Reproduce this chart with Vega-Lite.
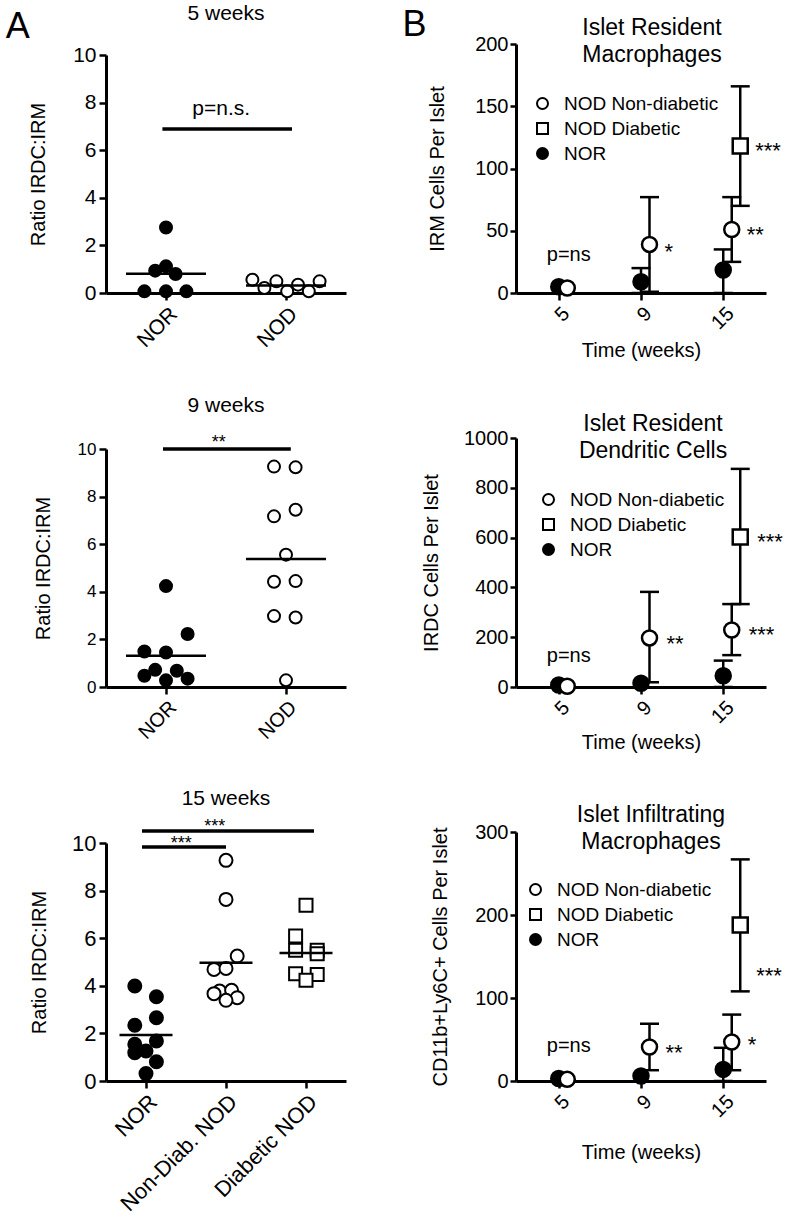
{
  "$schema": "https://vega.github.io/schema/vega-lite/v6.json",
  "background": "white",
  "padding": {"left": 5, "top": 3, "right": 5, "bottom": 5},
  "config": {
    "font": "Liberation Sans",
    "view": {"stroke": null},
    "axis": {"domainColor": "black", "domainWidth": 3, "tickColor": "black", "tickWidth": 2.5, "tickSize": 7, "labelColor": "black", "titleColor": "black", "grid": false, "titleFontWeight": "normal", "labelFontSize": 20, "titleFontSize": 20, "labelPadding": 3, "labelOverlap": false, "labelFont": "Liberation Sans", "titleFont": "Liberation Sans"},
    "title": {"fontWeight": "normal", "color": "black", "font": "Liberation Sans", "fontSize": 21},
    "legend": {"labelFont": "Liberation Sans", "labelColor": "black", "labelFontSize": 19}
  },
  "datasets": {
    "a1": [
      {"group": "NOR", "x": 1.0, "y": 2.75}, {"group": "NOR", "x": 0.91, "y": 0.94}, {"group": "NOR", "x": 1.0, "y": 1.12}, {"group": "NOR", "x": 1.08, "y": 0.8}, {"group": "NOR", "x": 0.82, "y": 0.07}, {"group": "NOR", "x": 1.0, "y": 0.07}, {"group": "NOR", "x": 1.17, "y": 0.07},
      {"group": "NOD", "x": 1.72, "y": 0.56}, {"group": "NOD", "x": 1.82, "y": 0.21}, {"group": "NOD", "x": 1.92, "y": 0.49}, {"group": "NOD", "x": 2.01, "y": 0.07}, {"group": "NOD", "x": 2.1, "y": 0.35}, {"group": "NOD", "x": 2.19, "y": 0.07}, {"group": "NOD", "x": 2.28, "y": 0.49}
    ],
    "a1m": [{"x": 1, "y": 0.81}, {"x": 2, "y": 0.32}],
    "a1s": [{"x": 0.97, "x2": 2.05, "y": 6.89}],
    "a1t": [{"x": 1.46, "y": 7.48, "label": "p=n.s."}],
    "a2": [
      {"group": "NOR", "x": 1.0, "y": 4.24}, {"group": "NOR", "x": 1.18, "y": 2.23}, {"group": "NOR", "x": 0.82, "y": 1.49}, {"group": "NOR", "x": 1.0, "y": 1.45}, {"group": "NOR", "x": 0.91, "y": 0.72}, {"group": "NOR", "x": 1.09, "y": 0.68}, {"group": "NOR", "x": 0.82, "y": 0.47}, {"group": "NOR", "x": 1.0, "y": 0.28}, {"group": "NOR", "x": 1.18, "y": 0.35},
      {"group": "NOD", "x": 1.9, "y": 9.26}, {"group": "NOD", "x": 2.08, "y": 9.23}, {"group": "NOD", "x": 1.9, "y": 7.17}, {"group": "NOD", "x": 2.08, "y": 7.45}, {"group": "NOD", "x": 2.0, "y": 5.56}, {"group": "NOD", "x": 1.9, "y": 4.42}, {"group": "NOD", "x": 2.08, "y": 4.45}, {"group": "NOD", "x": 1.9, "y": 2.98}, {"group": "NOD", "x": 2.08, "y": 2.92}, {"group": "NOD", "x": 2.0, "y": 0.28}
    ],
    "a2m": [{"x": 1, "y": 1.31}, {"x": 2, "y": 5.38}],
    "a2s": [{"x": 0.975, "x2": 2.04, "y": 10.0}],
    "a2t": [{"x": 1.44, "y": 10.42, "label": "**"}],
    "a3": [
      {"group": "NOR", "x": 0.86, "y": 3.99}, {"group": "NOR", "x": 1.13, "y": 3.54}, {"group": "NOR", "x": 1.13, "y": 2.66}, {"group": "NOR", "x": 0.86, "y": 2.34}, {"group": "NOR", "x": 1.13, "y": 1.68}, {"group": "NOR", "x": 0.86, "y": 1.54}, {"group": "NOR", "x": 1.0, "y": 1.26}, {"group": "NOR", "x": 0.86, "y": 1.19}, {"group": "NOR", "x": 1.13, "y": 0.81}, {"group": "NOR", "x": 1.0, "y": 0.31},
      {"group": "Non-Diab. NOD", "x": 2.0, "y": 9.27}, {"group": "Non-Diab. NOD", "x": 2.0, "y": 7.63}, {"group": "Non-Diab. NOD", "x": 2.14, "y": 5.25}, {"group": "Non-Diab. NOD", "x": 1.85, "y": 4.69}, {"group": "Non-Diab. NOD", "x": 2.0, "y": 4.73}, {"group": "Non-Diab. NOD", "x": 1.92, "y": 3.78}, {"group": "Non-Diab. NOD", "x": 2.07, "y": 3.81}, {"group": "Non-Diab. NOD", "x": 1.85, "y": 3.67}, {"group": "Non-Diab. NOD", "x": 2.14, "y": 3.5}, {"group": "Non-Diab. NOD", "x": 2.0, "y": 3.39},
      {"group": "Diabetic NOD", "x": 3.0, "y": 7.38}, {"group": "Diabetic NOD", "x": 2.87, "y": 6.09}, {"group": "Diabetic NOD", "x": 2.87, "y": 5.49}, {"group": "Diabetic NOD", "x": 3.14, "y": 5.49}, {"group": "Diabetic NOD", "x": 3.14, "y": 5.35}, {"group": "Diabetic NOD", "x": 2.87, "y": 4.51}, {"group": "Diabetic NOD", "x": 3.14, "y": 4.48}, {"group": "Diabetic NOD", "x": 3.0, "y": 4.23}
    ],
    "a3m": [{"x": 1, "y": 1.93}, {"x": 2, "y": 4.97}, {"x": 3, "y": 5.38}],
    "a3s": [{"x": 0.95, "x2": 3.1, "y": 10.5}, {"x": 0.95, "x2": 2.0, "y": 9.83}],
    "a3t": [{"x": 1.86, "y": 10.84, "label": "***"}, {"x": 1.44, "y": 10.13, "label": "***"}],
    "b1": [
      {"week": 5, "group": "NOR", "y": 5}, {"week": 9, "group": "NOR", "y": 9}, {"week": 15, "group": "NOR", "y": 18.5},
      {"week": 5, "group": "NOD Non-diabetic", "y": 4}, {"week": 9, "group": "NOD Non-diabetic", "y": 39}, {"week": 15, "group": "NOD Non-diabetic", "y": 51},
      {"week": 15, "group": "NOD Diabetic", "y": 118}
    ],
    "b1e": [
      {"week": 9, "group": "NOR", "lo": 0, "hi": 20}, {"week": 15, "group": "NOR", "lo": 0, "hi": 35},
      {"week": 9, "group": "NOD Non-diabetic", "lo": 1, "hi": 77}, {"week": 15, "group": "NOD Non-diabetic", "lo": 25, "hi": 77},
      {"week": 15, "group": "NOD Diabetic", "lo": 70, "hi": 166}
    ],
    "b1t": [
      {"week": 9, "group": "NOD Non-diabetic", "y": 37, "label": "*"}, {"week": 15, "group": "NOD Non-diabetic", "y": 51, "label": "**"}, {"week": 15, "group": "NOD Diabetic", "y": 118, "label": "***"}
    ],
    "b1p": [{"week": 5, "group": "NOR", "y": 26, "label": "p=ns"}],
    "b2": [
      {"week": 5, "group": "NOR", "y": 8}, {"week": 9, "group": "NOR", "y": 15}, {"week": 15, "group": "NOR", "y": 45},
      {"week": 5, "group": "NOD Non-diabetic", "y": 3}, {"week": 9, "group": "NOD Non-diabetic", "y": 197}, {"week": 15, "group": "NOD Non-diabetic", "y": 229},
      {"week": 15, "group": "NOD Diabetic", "y": 602}
    ],
    "b2e": [
      {"week": 15, "group": "NOR", "lo": 0, "hi": 106},
      {"week": 9, "group": "NOD Non-diabetic", "lo": 19, "hi": 382}, {"week": 15, "group": "NOD Non-diabetic", "lo": 128, "hi": 333},
      {"week": 15, "group": "NOD Diabetic", "lo": 333, "hi": 876}
    ],
    "b2t": [
      {"week": 9, "group": "NOD Non-diabetic", "y": 193, "label": "**"}, {"week": 15, "group": "NOD Non-diabetic", "y": 229, "label": "***"}, {"week": 15, "group": "NOD Diabetic", "y": 602, "label": "***"}
    ],
    "b2p": [{"week": 5, "group": "NOR", "y": 102, "label": "p=ns"}],
    "b3": [
      {"week": 5, "group": "NOR", "y": 3}, {"week": 9, "group": "NOR", "y": 6}, {"week": 15, "group": "NOR", "y": 14},
      {"week": 5, "group": "NOD Non-diabetic", "y": 2}, {"week": 9, "group": "NOD Non-diabetic", "y": 41}, {"week": 15, "group": "NOD Non-diabetic", "y": 47},
      {"week": 15, "group": "NOD Diabetic", "y": 188}
    ],
    "b3e": [
      {"week": 15, "group": "NOR", "lo": 0, "hi": 40},
      {"week": 9, "group": "NOD Non-diabetic", "lo": 13, "hi": 69}, {"week": 15, "group": "NOD Non-diabetic", "lo": 13, "hi": 80},
      {"week": 15, "group": "NOD Diabetic", "lo": 108, "hi": 267}
    ],
    "b3t": [
      {"week": 9, "group": "NOD Non-diabetic", "y": 40, "label": "**"}, {"week": 15, "group": "NOD Non-diabetic", "y": 49, "label": "*"}, {"week": 15, "group": "NOD Diabetic", "y": 132, "label": "***"}
    ],
    "b3p": [{"week": 5, "group": "NOR", "y": 35, "label": "p=ns"}]
  },
  "spacing": 410,
  "bounds": "flush",
  "resolve": {"scale": {"x": "independent", "y": "independent", "fill": "independent", "shape": "independent", "stroke": "independent", "xOffset": "independent"}, "axis": {"x": "independent", "y": "independent"}, "legend": {"fill": "independent", "shape": "independent", "stroke": "independent"}},
  "hconcat": [
    {
      "title": {"text": "A", "anchor": "start", "fontSize": 36, "offset": -43, "dx": -23, "frame": "bounds"},
      "spacing": 145,
      "bounds": "flush",
      "resolve": {"scale": {"x": "independent", "y": "independent", "fill": "independent", "shape": "independent"}, "axis": {"x": "independent", "y": "independent"}, "legend": {"fill": "independent", "shape": "independent"}},
      "vconcat": [
        {
          "width": 240, "height": 249,
          "title": {"text": "5 weeks", "fontSize": 21, "offset": 20},
          "layer": [
            {"data": {"name": "a1"},
             "mark": {"type": "point", "shape": "circle", "size": 144, "stroke": "black", "strokeWidth": 2, "opacity": 1},
             "encoding": {
               "x": {"field": "x", "type": "quantitative", "scale": {"domain": [0.5, 2.5], "nice": false}, "axis": {"values": [1, 2], "labelExpr": "datum.value == 1 ? 'NOR' : 'NOD'", "labelAngle": -45, "title": null, "labelFontSize": 21}},
               "y": {"field": "y", "type": "quantitative", "scale": {"domain": [0, 10], "range": [249, 11], "nice": false}, "axis": {"values": [0, 2, 4, 6, 8, 10], "title": "Ratio IRDC:IRM", "labelFontSize": 21, "titlePadding": 24}},
               "fill": {"field": "group", "type": "nominal", "scale": {"domain": ["NOR", "NOD"], "range": ["black", "white"]}, "legend": null}
             }},
            {"data": {"name": "a1m"},
             "mark": {"type": "tick", "orient": "horizontal", "size": 80, "thickness": 2.5, "color": "black", "opacity": 1},
             "encoding": {"x": {"field": "x", "type": "quantitative"}, "y": {"field": "y", "type": "quantitative"}}},
            {"data": {"name": "a1s"},
             "mark": {"type": "rule", "strokeWidth": 3.5, "color": "black"},
             "encoding": {"x": {"field": "x", "type": "quantitative"}, "x2": {"field": "x2"}, "y": {"field": "y", "type": "quantitative"}}},
            {"data": {"name": "a1t"},
             "mark": {"type": "text", "fontSize": 21, "baseline": "alphabetic", "align": "center", "color": "black"},
             "encoding": {"x": {"field": "x", "type": "quantitative"}, "y": {"field": "y", "type": "quantitative"}, "text": {"field": "label"}}}
          ]
        },
        {
          "width": 240, "height": 249,
          "title": {"text": "9 weeks", "fontSize": 21, "offset": 18},
          "layer": [
            {"data": {"name": "a2"},
             "mark": {"type": "point", "shape": "circle", "size": 144, "stroke": "black", "strokeWidth": 2, "opacity": 1},
             "encoding": {
               "x": {"field": "x", "type": "quantitative", "scale": {"domain": [0.5, 2.5], "nice": false}, "axis": {"values": [1, 2], "labelExpr": "datum.value == 1 ? 'NOR' : 'NOD'", "labelAngle": -45, "title": null, "labelFontSize": 20}},
               "y": {"field": "y", "type": "quantitative", "scale": {"domain": [0, 10], "range": [249, 11], "nice": false}, "axis": {"values": [0, 2, 4, 6, 8, 10], "title": "Ratio IRDC:IRM", "labelFontSize": 17, "titlePadding": 24}},
               "fill": {"field": "group", "type": "nominal", "scale": {"domain": ["NOR", "NOD"], "range": ["black", "white"]}, "legend": null}
             }},
            {"data": {"name": "a2m"},
             "mark": {"type": "tick", "orient": "horizontal", "size": 80, "thickness": 2.5, "color": "black", "opacity": 1},
             "encoding": {"x": {"field": "x", "type": "quantitative"}, "y": {"field": "y", "type": "quantitative"}}},
            {"data": {"name": "a2s"},
             "mark": {"type": "rule", "strokeWidth": 3.5, "color": "black"},
             "encoding": {"x": {"field": "x", "type": "quantitative"}, "x2": {"field": "x2"}, "y": {"field": "y", "type": "quantitative"}}},
            {"data": {"name": "a2t"},
             "mark": {"type": "text", "fontSize": 18, "baseline": "middle", "dy": 4, "align": "center", "color": "black"},
             "encoding": {"x": {"field": "x", "type": "quantitative"}, "y": {"field": "y", "type": "quantitative"}, "text": {"field": "label"}}}
          ]
        },
        {
          "width": 240, "height": 249,
          "title": {"text": "15 weeks", "fontSize": 21, "offset": 9},
          "layer": [
            {"data": {"name": "a3"},
             "mark": {"type": "point", "size": 169, "stroke": "black", "strokeWidth": 2, "opacity": 1},
             "encoding": {
               "x": {"field": "x", "type": "quantitative", "scale": {"domain": [0.5, 3.5], "nice": false}, "axis": {"values": [1, 2, 3], "labelExpr": "datum.value == 1 ? 'NOR' : datum.value == 2 ? 'Non-Diab. NOD' : 'Diabetic NOD'", "labelAngle": -45, "title": null, "labelFontSize": 22}},
               "y": {"field": "y", "type": "quantitative", "scale": {"domain": [0, 10], "range": [249, 11], "nice": false}, "axis": {"values": [0, 2, 4, 6, 8, 10], "title": "Ratio IRDC:IRM", "labelFontSize": 22, "titlePadding": 22}},
               "fill": {"field": "group", "type": "nominal", "scale": {"domain": ["NOR", "Non-Diab. NOD", "Diabetic NOD"], "range": ["black", "white", "white"]}, "legend": null},
               "shape": {"field": "group", "type": "nominal", "scale": {"domain": ["NOR", "Non-Diab. NOD", "Diabetic NOD"], "range": ["circle", "circle", "square"]}, "legend": null}
             }},
            {"data": {"name": "a3m"},
             "mark": {"type": "tick", "orient": "horizontal", "size": 53, "thickness": 2.5, "color": "black", "opacity": 1},
             "encoding": {"x": {"field": "x", "type": "quantitative"}, "y": {"field": "y", "type": "quantitative"}}},
            {"data": {"name": "a3s"},
             "mark": {"type": "rule", "strokeWidth": 3.5, "color": "black"},
             "encoding": {"x": {"field": "x", "type": "quantitative"}, "x2": {"field": "x2"}, "y": {"field": "y", "type": "quantitative"}}},
            {"data": {"name": "a3t"},
             "mark": {"type": "text", "fontSize": 18, "baseline": "middle", "dy": 4, "align": "center", "color": "black"},
             "encoding": {"x": {"field": "x", "type": "quantitative"}, "y": {"field": "y", "type": "quantitative"}, "text": {"field": "label"}}}
          ]
        }
      ]
    },
    {
      "title": {"text": "B", "anchor": "start", "fontSize": 36, "offset": -27, "dx": -19, "frame": "bounds"},
      "spacing": 145,
      "bounds": "flush",
      "resolve": {"scale": {"x": "independent", "y": "independent", "fill": "independent", "shape": "independent", "stroke": "independent", "xOffset": "independent"}, "axis": {"x": "independent", "y": "independent"}, "legend": {"fill": "independent", "shape": "independent", "stroke": "independent"}},
      "vconcat": [
        {
          "width": 250, "height": 249,
          "title": {"text": ["Islet Resident", "Macrophages"], "fontSize": 23, "lineHeight": 27, "dx": 11, "offset": -33},
          "encoding": {
            "x": {"field": "week", "type": "ordinal", "scale": {"type": "point", "domain": [5, 9, 15], "padding": 0.52}, "axis": {"labelAngle": -45, "title": "Time (weeks)", "tickSize": 7, "labelPadding": 3, "titlePadding": 8}},
            "xOffset": {"field": "group", "type": "nominal", "scale": {"type": "point", "domain": ["NOR", "NOD Non-diabetic", "NOD Diabetic"], "range": [0, 17], "padding": 0}}
          },
          "layer": [
            {"data": {"name": "b1e"},
             "mark": {"type": "rule", "strokeWidth": 2.5, "color": "black"},
             "encoding": {"y": {"field": "lo", "type": "quantitative", "title": "IRM Cells Per Islet", "scale": {"domain": [0, 200], "nice": false}, "axis": {"values": [0, 50, 100, 150, 200], "tickSize": 6, "labelPadding": 2, "titlePadding": 27}}, "y2": {"field": "hi"}}},
            {"data": {"name": "b1e"},
             "mark": {"type": "tick", "orient": "horizontal", "size": 19, "thickness": 2.5, "color": "black", "opacity": 1},
             "encoding": {"y": {"field": "hi", "type": "quantitative", "title": "IRM Cells Per Islet"}}},
            {"data": {"name": "b1e"},
             "mark": {"type": "tick", "orient": "horizontal", "size": 19, "thickness": 2.5, "color": "black", "opacity": 1},
             "encoding": {"y": {"field": "lo", "type": "quantitative", "title": "IRM Cells Per Islet"}}},
            {"data": {"name": "b1"},
             "mark": {"type": "point", "size": 225, "strokeWidth": 2.5, "opacity": 1},
             "encoding": {
               "y": {"field": "y", "type": "quantitative", "title": "IRM Cells Per Islet"},
               "shape": {"field": "group", "type": "nominal", "scale": {"domain": ["NOD Non-diabetic", "NOD Diabetic", "NOR"], "range": ["circle", "square", "circle"]}, "legend": {"orient": "none", "legendX": 17, "legendY": 50, "title": null, "padding": 0, "symbolSize": 121, "symbolStrokeWidth": 2, "labelFontSize": 19, "labelOffset": 12, "rowPadding": 5}},
               "fill": {"field": "group", "type": "nominal", "scale": {"domain": ["NOD Non-diabetic", "NOD Diabetic", "NOR"], "range": ["white", "white", "black"]}, "legend": {"orient": "none", "legendX": 17, "legendY": 50, "title": null, "padding": 0, "symbolSize": 121, "symbolStrokeWidth": 2, "labelFontSize": 19, "labelOffset": 12, "rowPadding": 5}},
               "stroke": {"field": "group", "type": "nominal", "scale": {"domain": ["NOD Non-diabetic", "NOD Diabetic", "NOR"], "range": ["black", "black", "black"]}, "legend": {"orient": "none", "legendX": 17, "legendY": 50, "title": null, "padding": 0, "symbolSize": 121, "symbolStrokeWidth": 2, "labelFontSize": 19, "labelOffset": 12, "rowPadding": 5}}
             }},
            {"data": {"name": "b1t"},
             "mark": {"type": "text", "fontSize": 22, "align": "left", "baseline": "middle", "dx": 15, "dy": 5, "color": "black"},
             "encoding": {"y": {"field": "y", "type": "quantitative", "title": "IRM Cells Per Islet"}, "text": {"field": "label"}}},
            {"data": {"name": "b1p"},
             "mark": {"type": "text", "fontSize": 20, "align": "center", "baseline": "alphabetic", "dx": 10, "color": "black"},
             "encoding": {"y": {"field": "y", "type": "quantitative", "title": "IRM Cells Per Islet"}, "text": {"field": "label"}}}
          ]
        },
        {
          "width": 250, "height": 249,
          "title": {"text": ["Islet Resident", "Dendritic Cells"], "fontSize": 23, "lineHeight": 27, "dx": 12, "offset": -35},
          "encoding": {
            "x": {"field": "week", "type": "ordinal", "scale": {"type": "point", "domain": [5, 9, 15], "padding": 0.52}, "axis": {"labelAngle": -45, "title": "Time (weeks)", "tickSize": 7, "labelPadding": 3, "titlePadding": 6}},
            "xOffset": {"field": "group", "type": "nominal", "scale": {"type": "point", "domain": ["NOR", "NOD Non-diabetic", "NOD Diabetic"], "range": [0, 17], "padding": 0}}
          },
          "layer": [
            {"data": {"name": "b2e"},
             "mark": {"type": "rule", "strokeWidth": 2.5, "color": "black"},
             "encoding": {"y": {"field": "lo", "type": "quantitative", "title": "IRDC Cells Per Islet", "scale": {"domain": [0, 1000], "nice": false}, "axis": {"values": [0, 200, 400, 600, 800, 1000], "format": "d", "tickSize": 6, "labelPadding": 2, "titlePadding": 22}}, "y2": {"field": "hi"}}},
            {"data": {"name": "b2e"},
             "mark": {"type": "tick", "orient": "horizontal", "size": 19, "thickness": 2.5, "color": "black", "opacity": 1},
             "encoding": {"y": {"field": "hi", "type": "quantitative", "title": "IRDC Cells Per Islet"}}},
            {"data": {"name": "b2e"},
             "mark": {"type": "tick", "orient": "horizontal", "size": 19, "thickness": 2.5, "color": "black", "opacity": 1},
             "encoding": {"y": {"field": "lo", "type": "quantitative", "title": "IRDC Cells Per Islet"}}},
            {"data": {"name": "b2"},
             "mark": {"type": "point", "size": 225, "strokeWidth": 2.5, "opacity": 1},
             "encoding": {
               "y": {"field": "y", "type": "quantitative", "title": "IRDC Cells Per Islet"},
               "shape": {"field": "group", "type": "nominal", "scale": {"domain": ["NOD Non-diabetic", "NOD Diabetic", "NOR"], "range": ["circle", "square", "circle"]}, "legend": {"orient": "none", "legendX": 23, "legendY": 52, "title": null, "padding": 0, "symbolSize": 121, "symbolStrokeWidth": 2, "labelFontSize": 19, "labelOffset": 12, "rowPadding": 5}},
               "fill": {"field": "group", "type": "nominal", "scale": {"domain": ["NOD Non-diabetic", "NOD Diabetic", "NOR"], "range": ["white", "white", "black"]}, "legend": {"orient": "none", "legendX": 23, "legendY": 52, "title": null, "padding": 0, "symbolSize": 121, "symbolStrokeWidth": 2, "labelFontSize": 19, "labelOffset": 12, "rowPadding": 5}},
               "stroke": {"field": "group", "type": "nominal", "scale": {"domain": ["NOD Non-diabetic", "NOD Diabetic", "NOR"], "range": ["black", "black", "black"]}, "legend": {"orient": "none", "legendX": 23, "legendY": 52, "title": null, "padding": 0, "symbolSize": 121, "symbolStrokeWidth": 2, "labelFontSize": 19, "labelOffset": 12, "rowPadding": 5}}
             }},
            {"data": {"name": "b2t"},
             "mark": {"type": "text", "fontSize": 22, "align": "left", "baseline": "middle", "dx": 17, "dy": 5, "color": "black"},
             "encoding": {"y": {"field": "y", "type": "quantitative", "title": "IRDC Cells Per Islet"}, "text": {"field": "label"}}},
            {"data": {"name": "b2p"},
             "mark": {"type": "text", "fontSize": 20, "align": "center", "baseline": "alphabetic", "dx": 10, "color": "black"},
             "encoding": {"y": {"field": "y", "type": "quantitative", "title": "IRDC Cells Per Islet"}, "text": {"field": "label"}}}
          ]
        },
        {
          "width": 250, "height": 249,
          "title": {"text": ["Islet Infiltrating", "Macrophages"], "fontSize": 23, "lineHeight": 27, "dx": 10, "offset": -32},
          "encoding": {
            "x": {"field": "week", "type": "ordinal", "scale": {"type": "point", "domain": [5, 9, 15], "padding": 0.52}, "axis": {"labelAngle": -45, "title": "Time (weeks)", "tickSize": 7, "labelPadding": 3, "titlePadding": 22}},
            "xOffset": {"field": "group", "type": "nominal", "scale": {"type": "point", "domain": ["NOR", "NOD Non-diabetic", "NOD Diabetic"], "range": [0, 17], "padding": 0}}
          },
          "layer": [
            {"data": {"name": "b3e"},
             "mark": {"type": "rule", "strokeWidth": 2.5, "color": "black"},
             "encoding": {"y": {"field": "lo", "type": "quantitative", "title": "CD11b+Ly6C+ Cells Per Islet", "scale": {"domain": [0, 300], "nice": false}, "axis": {"values": [0, 100, 200, 300], "tickSize": 6, "labelPadding": 2, "titlePadding": 24}}, "y2": {"field": "hi"}}},
            {"data": {"name": "b3e"},
             "mark": {"type": "tick", "orient": "horizontal", "size": 19, "thickness": 2.5, "color": "black", "opacity": 1},
             "encoding": {"y": {"field": "hi", "type": "quantitative", "title": "CD11b+Ly6C+ Cells Per Islet"}}},
            {"data": {"name": "b3e"},
             "mark": {"type": "tick", "orient": "horizontal", "size": 19, "thickness": 2.5, "color": "black", "opacity": 1},
             "encoding": {"y": {"field": "lo", "type": "quantitative", "title": "CD11b+Ly6C+ Cells Per Islet"}}},
            {"data": {"name": "b3"},
             "mark": {"type": "point", "size": 225, "strokeWidth": 2.5, "opacity": 1},
             "encoding": {
               "y": {"field": "y", "type": "quantitative", "title": "CD11b+Ly6C+ Cells Per Islet"},
               "shape": {"field": "group", "type": "nominal", "scale": {"domain": ["NOD Non-diabetic", "NOD Diabetic", "NOR"], "range": ["circle", "square", "circle"]}, "legend": {"orient": "none", "legendX": 10, "legendY": 48, "title": null, "padding": 0, "symbolSize": 121, "symbolStrokeWidth": 2, "labelFontSize": 19, "labelOffset": 12, "rowPadding": 5}},
               "fill": {"field": "group", "type": "nominal", "scale": {"domain": ["NOD Non-diabetic", "NOD Diabetic", "NOR"], "range": ["white", "white", "black"]}, "legend": {"orient": "none", "legendX": 10, "legendY": 48, "title": null, "padding": 0, "symbolSize": 121, "symbolStrokeWidth": 2, "labelFontSize": 19, "labelOffset": 12, "rowPadding": 5}},
               "stroke": {"field": "group", "type": "nominal", "scale": {"domain": ["NOD Non-diabetic", "NOD Diabetic", "NOR"], "range": ["black", "black", "black"]}, "legend": {"orient": "none", "legendX": 10, "legendY": 48, "title": null, "padding": 0, "symbolSize": 121, "symbolStrokeWidth": 2, "labelFontSize": 19, "labelOffset": 12, "rowPadding": 5}}
             }},
            {"data": {"name": "b3t"},
             "mark": {"type": "text", "fontSize": 22, "align": "left", "baseline": "middle", "dx": 16, "dy": 5, "color": "black"},
             "encoding": {"y": {"field": "y", "type": "quantitative", "title": "CD11b+Ly6C+ Cells Per Islet"}, "text": {"field": "label"}}},
            {"data": {"name": "b3p"},
             "mark": {"type": "text", "fontSize": 20, "align": "center", "baseline": "alphabetic", "dx": 10, "color": "black"},
             "encoding": {"y": {"field": "y", "type": "quantitative", "title": "CD11b+Ly6C+ Cells Per Islet"}, "text": {"field": "label"}}}
          ]
        }
      ]
    }
  ]
}
